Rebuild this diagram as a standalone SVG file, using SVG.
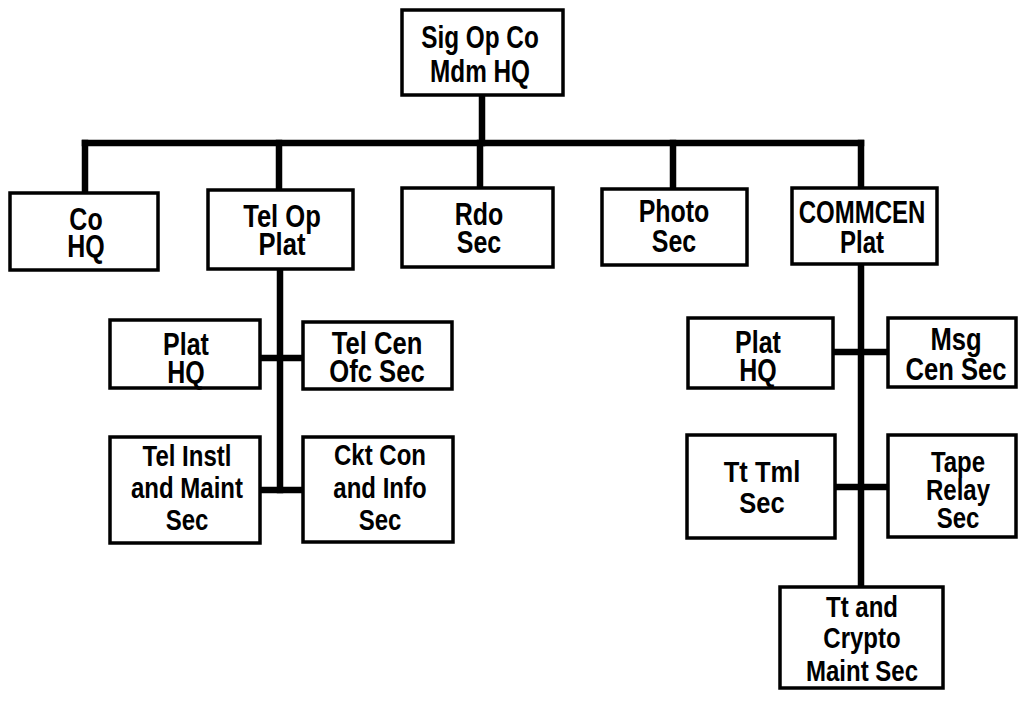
<svg xmlns="http://www.w3.org/2000/svg" width="1027" height="701" viewBox="0 0 1027 701">
<style>
.box{fill:#fff;stroke:#000;stroke-width:3.5}
.t{font-family:"Liberation Sans",Arial,sans-serif;font-weight:bold;font-size:32px;text-anchor:middle;fill:#000}
.s{font-size:30px}
.c line{stroke:#000;stroke-width:6.5;stroke-linecap:square}
</style>
<rect width="1027" height="701" fill="#fff"/>
<g class="c" id="connectors">
<line x1="482" y1="95" x2="482" y2="143"/>
<line x1="85" y1="143" x2="861" y2="143"/>
<line x1="85" y1="143" x2="85" y2="193"/>
<line x1="279" y1="143" x2="279" y2="190"/>
<line x1="480" y1="143" x2="480" y2="188"/>
<line x1="673" y1="143" x2="673" y2="189"/>
<line x1="861" y1="143" x2="861" y2="188"/>
<line x1="280" y1="269" x2="280" y2="490"/>
<line x1="260" y1="358" x2="303" y2="358"/>
<line x1="260" y1="490" x2="303" y2="490"/>
<line x1="861" y1="264" x2="861" y2="587"/>
<line x1="833" y1="352" x2="888" y2="352"/>
<line x1="835" y1="487" x2="888" y2="487"/>
</g>
<g id="sig-op-co"><rect class="box" x="402" y="10" width="161" height="85"/>
<text class="t" transform="matrix(0.76 0 0 1 480 0)"><tspan x="0" y="48">Sig Op Co</tspan><tspan x="0" y="82">Mdm HQ</tspan></text></g>
<g id="co-hq"><rect class="box" x="10" y="193" width="148" height="77"/>
<text class="t" transform="matrix(0.78 0 0 1 86 0)"><tspan x="0" y="230">Co</tspan><tspan x="0" y="257">HQ</tspan></text></g>
<g id="tel-op-plat"><rect class="box" x="208" y="190" width="145" height="79"/>
<text class="t" transform="matrix(0.8 0 0 1 282 0)"><tspan x="0" y="227">Tel Op</tspan><tspan x="0" y="255">Plat</tspan></text></g>
<g id="rdo-sec"><rect class="box" x="402" y="188" width="151" height="79"/>
<text class="t" transform="matrix(0.78 0 0 1 479 0)"><tspan x="0" y="225">Rdo</tspan><tspan x="0" y="253">Sec</tspan></text></g>
<g id="photo-sec"><rect class="box" x="602" y="189" width="145" height="76"/>
<text class="t" transform="matrix(0.78 0 0 1 674 0)"><tspan x="0" y="222">Photo</tspan><tspan x="0" y="252">Sec</tspan></text></g>
<g id="commcen-plat"><rect class="box" x="792" y="188" width="145" height="76"/>
<text class="t" transform="matrix(0.75 0 0 1 862 0)"><tspan x="0" y="223">COMMCEN</tspan><tspan x="0" y="253">Plat</tspan></text></g>
<g id="plat-hq-l"><rect class="box" x="110" y="320" width="150" height="68"/>
<text class="t" transform="matrix(0.78 0 0 1 186 0)"><tspan x="0" y="355">Plat</tspan><tspan x="0" y="383">HQ</tspan></text></g>
<g id="tel-cen-ofc-sec"><rect class="box" x="303" y="322" width="149" height="67"/>
<text class="t" transform="matrix(0.8 0 0 1 377 0)"><tspan x="0" y="354">Tel Cen</tspan><tspan x="0" y="382">Ofc Sec</tspan></text></g>
<g id="tel-instl"><rect class="box" x="110" y="437" width="150" height="106"/>
<text class="t s" transform="matrix(0.8 0 0 1 187 0)"><tspan x="0" y="466">Tel Instl</tspan><tspan x="0" y="498">and Maint</tspan><tspan x="0" y="530">Sec</tspan></text></g>
<g id="ckt-con"><rect class="box" x="303" y="437" width="150" height="105"/>
<text class="t s" transform="matrix(0.8 0 0 1 380 0)"><tspan x="0" y="465">Ckt Con</tspan><tspan x="0" y="498">and Info</tspan><tspan x="0" y="530">Sec</tspan></text></g>
<g id="plat-hq-r"><rect class="box" x="688" y="318" width="145" height="70"/>
<text class="t" transform="matrix(0.78 0 0 1 758 0)"><tspan x="0" y="353">Plat</tspan><tspan x="0" y="381">HQ</tspan></text></g>
<g id="msg-cen-sec"><rect class="box" x="888" y="318" width="128" height="69"/>
<text class="t" transform="matrix(0.8 0 0 1 956 0)"><tspan x="0" y="350">Msg</tspan><tspan x="0" y="380">Cen Sec</tspan></text></g>
<g id="tt-tml-sec"><rect class="box" x="687" y="435" width="148" height="103"/>
<text class="t s" transform="matrix(0.85 0 0 1 762 0)"><tspan x="0" y="482">Tt Tml</tspan><tspan x="0" y="513">Sec</tspan></text></g>
<g id="tape-relay-sec"><rect class="box" x="888" y="435" width="128" height="102"/>
<text class="t s" transform="matrix(0.8 0 0 1 958 0)"><tspan x="0" y="472">Tape</tspan><tspan x="0" y="500">Relay</tspan><tspan x="0" y="528">Sec</tspan></text></g>
<g id="tt-crypto"><rect class="box" x="780" y="587" width="163" height="101"/>
<text class="t s" transform="matrix(0.8 0 0 1 862 0)"><tspan x="0" y="617">Tt and</tspan><tspan x="0" y="648">Crypto</tspan><tspan x="0" y="681">Maint Sec</tspan></text></g>
</svg>
